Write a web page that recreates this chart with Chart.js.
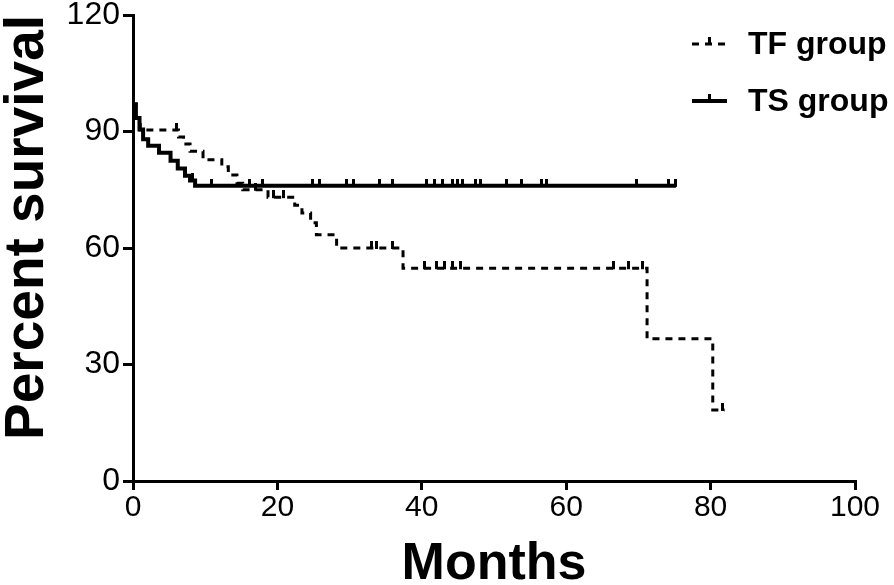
<!DOCTYPE html>
<html>
<head>
<meta charset="utf-8">
<script src="https://cdn.jsdelivr.net/npm/chart.js@4/dist/chart.umd.min.js"></script>
<style>
  html, body { margin: 0; padding: 0; background: #fff; }
  #wrap { width: 894px; height: 585px; }
</style>
</head>
<body>
<div id="wrap"><canvas id="myChart" width="894" height="585"></canvas></div>
<script>
// Kaplan-Meier steps (months, percent survival)
const tfTimes = [0, 0.4, 1.0, 6.3, 7.0, 7.9, 9.7, 12.3, 13.2, 14.4, 15.2, 18.7, 22.4, 23.4, 24.6, 25.4, 28.2, 37.4, 71.2, 80.3, 82.0];
const tfSurv  = [97, 93.5, 90.4, 88.6, 86.8, 84.9, 82.7, 80.9, 78.8, 76.7, 75.0, 73.1, 71.0, 69.0, 66.5, 63.4, 60.0, 54.8, 36.6, 18.3, 18.3];
const tsTimes = [0, 0.4, 0.9, 1.4, 2.1, 3.6, 5.2, 6.2, 7.2, 7.9, 8.6, 75.2];
const tsSurv  = [97, 93.5, 90.5, 88.0, 86.3, 84.5, 82.5, 80.5, 78.6, 77.4, 76.0, 76.0];

// censored observations (months)
const tfCensor = [6.0, 17.0, 19.5, 20.8, 33.1, 33.7, 36.0, 40.4, 42.1, 43.2, 44.2, 45.3, 66.5, 68.6, 70.6, 81.7];
const tsCensor = [8.3, 10.9, 16.2, 17.9, 24.8, 25.9, 29.6, 30.5, 34.2, 35.9, 40.7, 41.8, 42.9, 44.3, 44.9, 45.7, 47.4, 48.1, 51.8, 53.8, 56.6, 57.3, 69.8, 74.1, 75.1];

const groupNames = ['TF group', 'TS group'];
const xTicks = [0, 20, 40, 60, 80, 100];
const yTicks = [0, 30, 60, 90, 120];

function toPoints(ts, vs) {
  return ts.map((t, i) => ({ x: t, y: vs[i] }));
}
// survival value at time t from the step data
function survAt(ts, vs, t) {
  let v = vs[0];
  for (let i = 0; i < ts.length; i++) { if (ts[i] <= t) v = vs[i]; }
  return v;
}
function censorPoints(cs, ts, vs) {
  return cs.map(t => ({ x: t, y: survAt(ts, vs, t) }));
}

// small upward tick used as censor mark
function makeTick() {
  const c = document.createElement('canvas');
  c.width = 3; c.height = 14;
  const g = c.getContext('2d');
  g.fillStyle = '#000';
  g.fillRect(0, 0, 3, 8);
  return c;
}
const tick = makeTick();

const FONT = "'Liberation Sans', Arial, Helvetica, sans-serif";

const legendPlugin = {
  id: 'kmLegend',
  afterDraw(chart) {
    const ctx = chart.ctx;
    const rows = [
      { ds: chart.data.datasets[0], y: 44 },
      { ds: chart.data.datasets[1], y: 101 }
    ];
    ctx.save();
    rows.forEach(r => {
      ctx.strokeStyle = '#000';
      ctx.lineWidth = r.ds.borderWidth;
      ctx.setLineDash(r.ds.borderDash || []);
      ctx.beginPath();
      ctx.moveTo(692, r.y);
      ctx.lineTo(727, r.y);
      ctx.stroke();
      ctx.setLineDash([]);
      ctx.fillStyle = '#000';
      ctx.fillRect(708, r.y - 7, 3, 7);
      ctx.font = 'bold 32px ' + FONT;
      ctx.textBaseline = 'middle';
      ctx.textAlign = 'left';
      ctx.fillText(r.ds.label, 748, r.y + 1);
    });
    ctx.restore();
  }
};

const context = document.getElementById('myChart').getContext('2d');
const myChart = new Chart(context, {
  type: 'line',
  data: {
    datasets: [
      {
        label: groupNames[0],
        data: toPoints(tfTimes, tfSurv),
        stepped: true,
        borderColor: '#000',
        borderWidth: 3,
        borderDash: [7, 6],
        pointRadius: 0,
        fill: false
      },
      {
        label: groupNames[1],
        data: toPoints(tsTimes, tsSurv),
        stepped: true,
        borderColor: '#000',
        borderWidth: 4,
        pointRadius: 0,
        fill: false
      },
      {
        label: '',
        data: censorPoints(tfCensor, tfTimes, tfSurv),
        showLine: false,
        pointStyle: tick,
        pointRadius: 5
      },
      {
        label: '',
        data: censorPoints(tsCensor, tsTimes, tsSurv),
        showLine: false,
        pointStyle: tick,
        pointRadius: 5
      }
    ]
  },
  options: {
    responsive: false,
    animation: false,
    layout: { padding: { top: 15, right: 39, left: 0, bottom: 0 } },
    plugins: {
      legend: { display: false },
      tooltip: { enabled: false }
    },
    scales: {
      x: {
        type: 'linear',
        min: 0,
        max: 100,
        afterBuildTicks: s => { s.ticks = xTicks.map(v => ({ value: v })); },
        afterFit: s => { s.height = 104; },
        ticks: { color: '#000', font: { family: FONT, size: 30 }, padding: 0, maxRotation: 0 },
        grid: { drawOnChartArea: false, drawTicks: true, tickLength: 9, color: '#000', lineWidth: 3 },
        border: { display: true, color: '#000', width: 3 },
        title: { display: true, text: 'Months', color: '#000', font: { family: FONT, size: 52, weight: 'bold', lineHeight: 0.8 }, padding: 0 }
      },
      y: {
        min: 0,
        max: 120,
        afterBuildTicks: s => { s.ticks = yTicks.map(v => ({ value: v })); },
        afterFit: s => { s.width = 133; s.paddingTop = 0; s.paddingBottom = 0; },
        ticks: { color: '#000', font: { family: FONT, size: 32 }, padding: 3 },
        grid: { drawOnChartArea: false, drawTicks: true, tickLength: 10, color: '#000', lineWidth: 3 },
        border: { display: true, color: '#000', width: 3 },
        title: { display: true, text: 'Percent survival', color: '#000', align: 'end', font: { family: FONT, size: 55, weight: 'bold', lineHeight: 1 }, padding: 0 }
      }
    }
  },
  plugins: [legendPlugin]
});
</script>
</body>
</html>
